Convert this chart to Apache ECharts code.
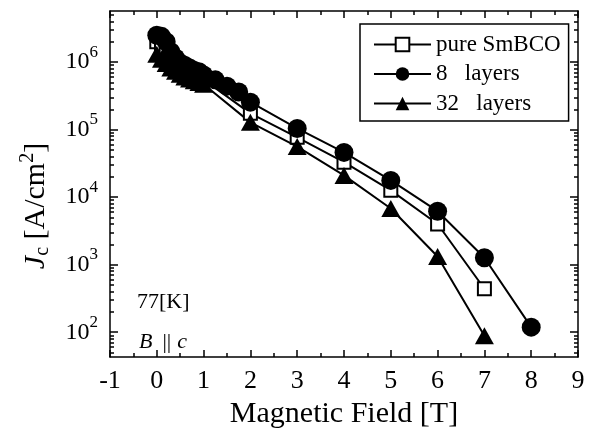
<!DOCTYPE html>
<html>
<head>
<meta charset="utf-8">
<script src="https://cdn.jsdelivr.net/npm/echarts@6/dist/echarts.min.js"></script>
<style>
html, body { margin: 0; padding: 0; background: #fff; }
#chart { width: 592px; height: 434px; }
</style>
</head>
<body>
<div id="chart"></div>
<script>
// 数据：磁场 [T] 与 Jc [A/cm^2]
var fieldPure = [0, 0.1, 0.2, 0.3, 0.4, 0.5, 0.6, 0.7, 0.8, 0.9, 1.0, 2, 3, 4, 5, 6, 7];
var jcPure = [2.0e6, 1.6e6, 1.3e6, 1.1e6, 9.5e5, 8.5e5, 7.6e5, 6.9e5, 6.4e5, 5.9e5, 5.5e5, 1.74e5, 7.7e4, 3.3e4, 1.26e4, 4.0e3, 440];

var field8 = [0, 0.1, 0.2, 0.3, 0.4, 0.5, 0.6, 0.7, 0.8, 0.9, 1.0, 1.25, 1.5, 1.75, 2, 3, 4, 5, 6, 7, 8];
var jc8 = [2.5e6, 2.4e6, 2.0e6, 1.42e6, 1.15e6, 9.7e5, 8.9e5, 8.2e5, 7.5e5, 7.2e5, 6.45e5, 5.45e5, 4.4e5, 3.6e5, 2.55e5, 1.04e5, 4.6e4, 1.77e4, 6.2e3, 1.27e3, 119];

var field32 = [0, 0.1, 0.2, 0.3, 0.4, 0.5, 0.6, 0.7, 0.8, 0.9, 1.0, 2, 3, 4, 5, 6, 7];
var jc32 = [1.3e6, 1.1e6, 9.5e5, 8.2e5, 7.3e5, 6.6e5, 6.0e5, 5.6e5, 5.3e5, 5.0e5, 4.7e5, 1.28e5, 5.6e4, 2.1e4, 6.8e3, 1.32e3, 89];

var seriesNames = ['pure SmBCO', '8   layers', '32   layers'];
var yMajorTicks = [1e2, 1e3, 1e4, 1e5, 1e6];
var yMinorTicks = [];
for (var d = 1; d <= 6; d++) {
	for (var k = 2; k <= 9; k++) {
		yMinorTicks.push(k * Math.pow(10, d));
	}
}

var FONT = '"Liberation Serif", "Times New Roman", serif';
var Y_MIN = 43, Y_MAX = 5.7e6;

function pairs(xs, ys) {
	var out = [];
	for (var i = 0; i < xs.length; i++) out.push([xs[i], ys[i]]);
	return out;
}

function xAxisDef(pos, showLabel) {
	return {
		type: 'value', position: pos, min: -1, max: 9, interval: 1,
		axisLine: { show: true, onZero: false, lineStyle: { color: '#000', width: 1.5 } },
		axisTick: { show: true, inside: true, length: 7, lineStyle: { color: '#000', width: 1.5 } },
		minorTick: { show: true, splitNumber: 2, length: 4, lineStyle: { color: '#000', width: 1.5 } },
		axisLabel: { show: showLabel, color: '#000', fontFamily: FONT, fontSize: 26, margin: 11 },
		splitLine: { show: false },
		minorSplitLine: { show: false }
	};
}

function yAxisDef(pos, ticks, len, showLabel, showLine) {
	return {
		type: 'log', logBase: 10, position: pos, min: Y_MIN, max: Y_MAX,
		axisLine: { show: showLine, onZero: false, lineStyle: { color: '#000', width: 1.5 } },
		axisTick: { show: true, inside: true, length: len, customValues: ticks, lineStyle: { color: '#000', width: 1.5 } },
		axisLabel: {
			show: showLabel, customValues: ticks, margin: 12, color: '#000', fontFamily: FONT,
			formatter: function(v) {
				return '{b|10}{e|' + Math.round(Math.log10(v)) + '}';
			},
			rich: {
				b: { fontFamily: FONT, fontSize: 24, color: '#000' },
				e: { fontFamily: FONT, fontSize: 17, color: '#000', padding: [0, 0, 20, 0] }
			}
		},
		splitLine: { show: false }
	};
}

var chart = echarts.init(document.getElementById('chart'));

var yMain = yAxisDef('left', yMajorTicks, 8, true, true);
yMain.name = '{j|J}{s|c}{n| [A/cm}{p|2}{n|]}';
yMain.nameLocation = 'middle';
yMain.nameGap = 56;
yMain.nameRotate = 90;
yMain.nameTextStyle = {
	color: '#000', fontFamily: FONT, fontSize: 30, padding: [0, 44, 0, 0],
	rich: {
		j: { fontFamily: FONT, fontSize: 30, fontStyle: 'italic', color: '#000' },
		s: { fontFamily: FONT, fontSize: 20, color: '#000', padding: [14, 0, 0, 0] },
		n: { fontFamily: FONT, fontSize: 30, color: '#000' },
		p: { fontFamily: FONT, fontSize: 20, color: '#000', padding: [0, 0, 16, 0] }
	}
};

var xMain = xAxisDef('bottom', true);
xMain.name = 'Magnetic Field [T]';
xMain.nameLocation = 'middle';
xMain.nameGap = 36;
xMain.nameTextStyle = { color: '#000', fontFamily: FONT, fontSize: 30 };

var option = {
	animation: false,
	backgroundColor: '#fff',
	textStyle: { fontFamily: FONT, color: '#000' },
	grid: { left: 110, right: 14, top: 11, bottom: 77, containLabel: false, outerBoundsMode: 'none' },
	xAxis: [xMain, xAxisDef('top', false)],
	yAxis: [
		yMain,
		yAxisDef('left', yMinorTicks, 4, false, false),
		yAxisDef('right', yMajorTicks, 8, false, true),
		yAxisDef('right', yMinorTicks, 4, false, false)
	],
	legend: {
		orient: 'vertical', left: 360, top: 24,
		padding: [9, 8, 6, 13],
		itemWidth: 57, itemHeight: 17, itemGap: 6.5, itemTextGap: 6,
		borderColor: '#000', borderWidth: 1.5, borderRadius: 0,
		backgroundColor: '#fff',
		textStyle: { color: '#000', fontFamily: FONT, fontSize: 23, lineHeight: 20 },
		data: seriesNames,
		selectedMode: false
	},
	graphic: [
		{
			type: 'text', left: 137, top: 291,
			style: { text: '77[K]', fontFamily: FONT, fontSize: 22, fill: '#000' }
		},
		{
			type: 'text', left: 139, top: 331,
			style: {
				text: '{i|B}{p|||}{i|c}', fontFamily: FONT, fontSize: 22, fill: '#000',
				rich: {
					i: { fontFamily: FONT, fontSize: 22, fontStyle: 'italic', fill: '#000' },
					p: { fontFamily: FONT, fontSize: 22, fill: '#000', padding: [0, 6, 0, 10] }
				}
			}
		}
	],
	series: [
		{
			name: seriesNames[0], type: 'line', data: pairs(fieldPure, jcPure),
			symbol: 'rect', symbolSize: 13,
			itemStyle: { color: '#fff', borderColor: '#000', borderWidth: 2 },
			lineStyle: { color: '#000', width: 2 },
			emphasis: { disabled: true }
		},
		{
			name: seriesNames[1], type: 'line', data: pairs(field8, jc8),
			symbol: 'circle', symbolSize: 19,
			itemStyle: { color: '#000' },
			lineStyle: { color: '#000', width: 2 },
			emphasis: { disabled: true }
		},
		{
			name: seriesNames[2], type: 'line', data: pairs(field32, jc32),
			symbol: 'triangle', symbolSize: [19, 17],
			itemStyle: { color: '#000' },
			lineStyle: { color: '#000', width: 2 },
			emphasis: { disabled: true }
		}
	]
};

chart.setOption(option);
</script>
</body>
</html>
